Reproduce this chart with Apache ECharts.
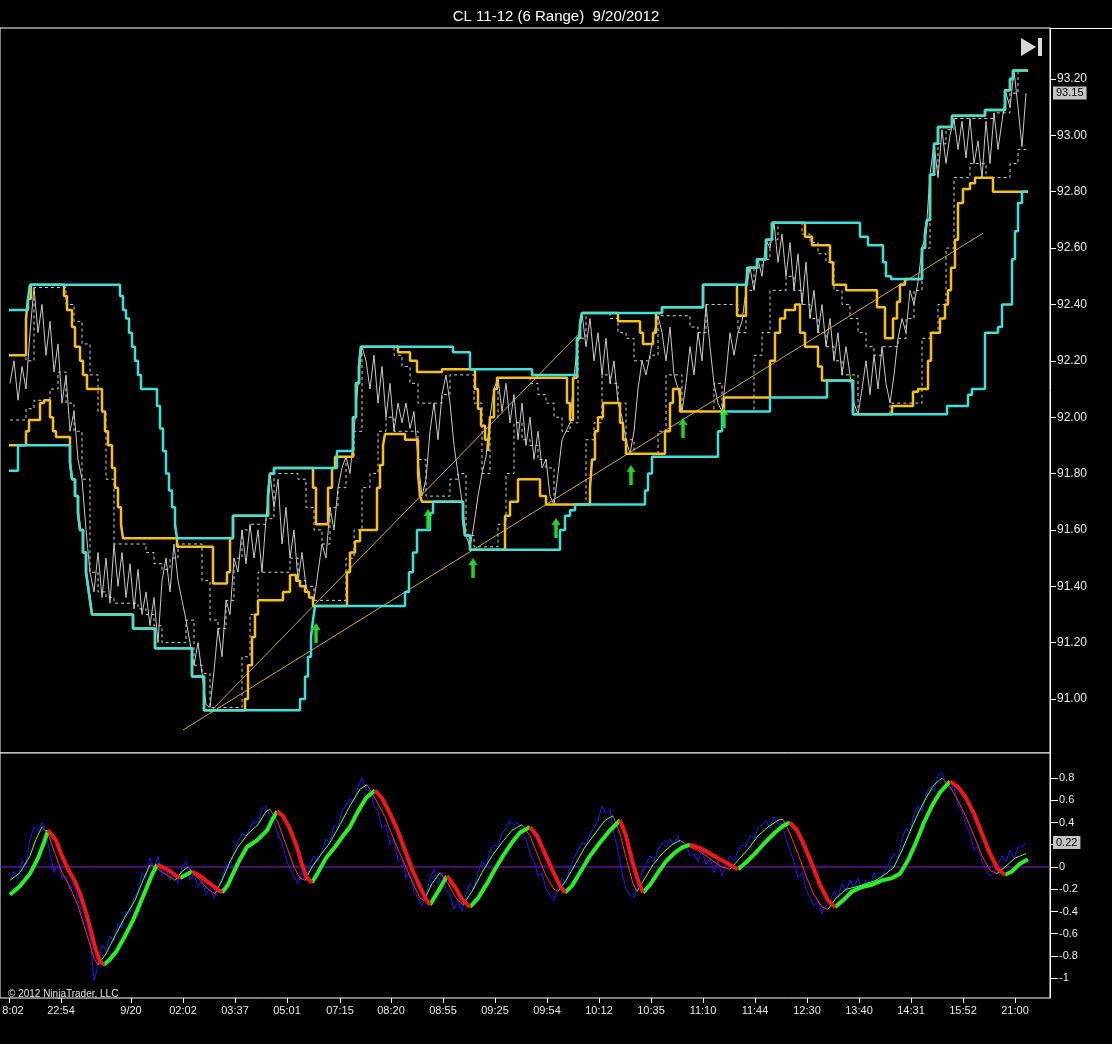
<!DOCTYPE html>
<html><head><meta charset="utf-8">
<script src="https://cdn.jsdelivr.net/npm/echarts@6/dist/echarts.min.js"></script>
<style>html,body{margin:0;padding:0;background:#000;}#c{width:1112px;height:1044px;}</style>
</head><body><div id="c"></div>
<script>
const chartTitle = 'CL 11-12 (6 Range)  9/20/2012';
const copyright = '\u00A9 2012 NinjaTrader, LLC';
const timeLabels = ['8:02','22:54','9/20','02:02','03:37','05:01','07:15','08:20','08:55','09:25','09:54','10:12','10:35','11:10','11:44','12:30','13:40','14:31','15:52','21:00'];
const timeLabelBars = [4.5,30.5,65.5,91.5,117.5,143.5,170,195.5,221.5,247.5,273.5,299.5,325.5,351.5,377.5,403.5,429.5,455.5,481.5,507.5];
const priceTicks = [91.0,91.2,91.4,91.6,91.8,92.0,92.2,92.4,92.6,92.8,93.0,93.2];
const oscTicks = [-1,-0.8,-0.6,-0.4,-0.2,0,0.2,0.4,0.6,0.8];
const lastPrice = 93.15;
const lastOsc = 0.22;

// price (close line), one value every 2 bars starting at bar 5
const priceStartBar = 5, priceStepBars = 2;
const price = [
92.12,92.20,92.06,92.18,92.10,92.30,92.46,92.30,92.40,92.22,
92.34,92.16,92.26,92.05,92.15,91.95,92.02,91.85,91.78,91.60,
91.45,91.38,91.52,91.36,91.50,91.34,91.55,91.40,91.52,91.36,
91.48,91.32,91.46,91.30,91.38,91.26,91.36,91.20,91.42,91.50,
91.38,91.55,91.42,91.35,91.28,91.20,91.12,91.20,91.09,90.98,
90.97,91.10,91.25,91.15,91.35,91.30,91.50,91.45,91.60,91.48,
91.62,91.50,91.60,91.45,91.64,91.80,91.68,91.78,91.55,91.68,
91.50,91.60,91.42,91.52,91.40,91.36,91.35,91.45,91.55,91.50,
91.68,91.60,91.75,91.82,91.86,91.80,91.95,92.12,92.25,92.20,
92.10,92.22,92.05,92.18,92.00,92.12,91.95,92.05,91.98,92.05,
91.96,92.02,91.85,91.72,91.78,91.95,92.05,91.92,92.08,92.15,
92.05,91.90,91.80,91.70,91.58,91.54,91.62,91.72,91.80,91.86,
92.00,92.10,92.14,92.02,92.12,91.98,92.08,91.92,92.05,91.90,
92.00,91.85,91.95,91.82,91.85,91.72,91.69,91.80,91.92,91.95,
91.98,92.14,92.28,92.37,92.25,92.35,92.20,92.30,92.15,92.28,
92.12,92.20,92.05,92.00,91.92,91.87,91.95,92.10,92.20,92.15,
92.22,92.30,92.36,92.30,92.20,92.32,92.15,92.10,92.02,92.12,
92.25,92.15,92.30,92.20,92.40,92.25,92.12,92.05,92.02,92.15,
92.30,92.22,92.30,92.34,92.45,92.53,92.45,92.56,92.50,92.63,
92.60,92.69,92.55,92.65,92.50,92.62,92.45,92.58,92.40,92.55,
92.35,92.45,92.30,92.40,92.25,92.35,92.20,92.30,92.15,92.25,
92.15,92.05,92.01,92.10,92.20,92.08,92.22,92.10,92.25,92.12,
92.05,92.15,92.28,92.35,92.30,92.45,92.40,92.48,92.60,92.65,
92.86,92.97,92.85,93.02,92.90,93.00,93.06,92.95,93.05,92.92,
93.06,92.90,92.98,92.85,93.05,92.90,93.08,92.95,93.05,93.15,
93.10,93.23,93.10,92.96,93.15
];

// fast channel (dashed), one value every 4 bars starting at bar 5
const fastStartBar = 5, fastStepBars = 4;
const fastUpper = [
92.22,92.22,92.20,92.46,92.46,92.46,92.46,92.40,92.34,92.26,
92.15,92.02,91.78,91.55,91.55,91.55,91.55,91.52,91.48,91.46,
91.50,91.55,91.55,91.55,91.42,91.28,91.25,91.35,91.50,91.60,
91.62,91.62,91.64,91.80,91.80,91.80,91.78,91.68,91.60,91.55,
91.68,91.75,91.86,91.95,92.25,92.25,92.25,92.25,92.22,
92.18,92.12,92.05,92.05,92.05,92.08,92.15,92.15,92.15,92.05,
91.80,92.00,92.14,92.14,92.14,92.14,92.12,92.08,92.05,92.00,
91.95,91.98,92.28,92.37,92.37,92.37,92.35,92.30,92.28,92.20,
92.20,92.22,92.36,92.36,92.36,92.36,92.32,92.30,92.40,92.40,
92.40,92.40,92.30,92.45,92.53,92.56,92.63,92.69,92.69,92.69,
92.65,92.62,92.58,92.55,92.45,92.40,92.35,92.30,92.25,92.22,
92.25,92.25,92.28,92.35,92.45,92.60,92.86,92.97,93.02,93.06,
93.06,93.06,93.06,93.06,93.08,93.08,93.15,93.23,93.23
];
const fastLower = [
91.99,91.99,92.03,92.06,92.06,92.10,92.16,92.05,91.95,91.78,
91.45,91.38,91.36,91.34,91.34,91.34,91.32,91.30,91.26,91.20,
91.20,91.20,91.28,91.12,91.09,90.97,90.97,90.97,90.97,91.15,
91.30,91.45,91.45,91.45,91.45,91.50,91.42,91.40,91.35,91.35,
91.35,91.35,91.50,91.60,91.75,91.80,91.95,92.00,91.95,
91.95,91.95,91.85,91.72,91.72,91.72,91.78,91.80,91.58,91.54,
91.54,91.54,91.62,91.80,91.98,91.92,91.90,91.85,91.82,91.69,
91.69,91.69,91.69,91.92,91.98,92.15,92.12,92.05,91.92,91.87,
91.87,91.87,91.95,92.15,92.15,92.02,92.02,92.02,92.02,92.12,
92.02,92.02,92.02,92.02,92.22,92.30,92.45,92.45,92.50,92.45,
92.40,92.35,92.30,92.25,92.20,92.15,92.15,92.01,92.01,92.01,
92.01,92.05,92.05,92.05,92.05,92.28,92.30,92.40,92.60,92.85,
92.85,92.90,92.90,92.85,92.85,92.85,92.90,92.95,92.96
];

// slow channel (cyan): [bar, level] at each change
const outerUpper = [[4.5,92.38],[14,92.42],[15,92.47],[60,92.43],[61.5,92.38],[63,92.35],[64.5,92.30],[66,92.25],[67.5,92.20],[69,92.15],[70.5,92.10],
[78.5,92.04],[80,91.96],[81.5,91.88],[83,91.80],[84.5,91.74],[86,91.68],[87.5,91.62],[88.5,91.57],[116.5,91.65],[134,91.72],[135,91.80],[137,91.82],
[168.5,91.88],[176.5,92.00],[178,92.12],[179.5,92.18],[180.5,92.25],[226.5,92.23],[235,92.17],[266,92.15],[288.5,92.28],[290,92.33],[291,92.37],
[331,92.39],[351.5,92.47],[373.5,92.53],[378.5,92.56],[383,92.63],[386,92.69],[430,92.64],[434,92.61],[441.5,92.55],[443,92.50],[445.5,92.49],
[461,92.60],[462.5,92.65],[463.5,92.70],[465,92.86],[467,92.97],[469,93.03],[476,93.07],[492.5,93.09],[502.5,93.16],[505,93.20],[506.5,93.23],[514,93.23]];
const outerLower = [[4.5,91.81],[9,91.90],[35,91.84],[36,91.78],[37.5,91.72],[39,91.66],[40,91.60],[41.5,91.52],[43,91.45],[44,91.40],[45,91.35],[46,91.30],
[66.5,91.25],[77.5,91.18],[96,91.08],[102,90.96],[150,91.00],[152.5,91.08],[154,91.15],[155.5,91.22],[156.5,91.28],[157.5,91.33],
[202.5,91.38],[204.5,91.45],[206.5,91.52],[208.5,91.60],[215,91.66],[216.5,91.70],[231.5,91.64],[232.5,91.58],[235,91.53],
[280,91.60],[282.5,91.65],[285,91.67],[287.5,91.69],[322.5,91.74],[324,91.80],[326,91.86],[359,91.95],[361,92.02],[385,92.07],[413.5,92.13],
[426.5,92.01],[473.5,92.04],[484,92.08],[486,92.10],[492.5,92.30],[499,92.32],[501,92.40],[506,92.56],[507.5,92.66],[509,92.76],[511,92.80],[514,92.80]];
// fast channel (yellow)
const innerUpper = [[4.5,92.22],[13,92.35],[14,92.42],[15.5,92.47],[32,92.43],[33.5,92.38],[36,92.32],[37.5,92.25],[40,92.20],[41.5,92.15],[43.5,92.10],
[51,92.02],[52.5,91.95],[54,91.90],[56,91.82],[57.5,91.75],[59,91.68],[60.5,91.62],[61.5,91.57],[88.5,91.54],[106.5,91.41],[113.5,91.45],[115,91.57],[116.5,91.65],
[134,91.72],[135,91.80],[137,91.82],[156.5,91.75],[158,91.62],[164,91.75],[166,91.82],[167.5,91.86],[176.5,92.00],[178,92.12],[179.5,92.18],[180.5,92.25],
[199,92.23],[205,92.20],[208.5,92.16],[221,92.17],[237.5,92.10],[239,92.03],[240.5,91.97],[242.5,91.92],[244,91.88],[245,92.00],[247,92.10],[248.5,92.14],
[283.5,92.05],[285,91.99],[286.5,92.14],[288.5,92.28],[290,92.33],[291,92.37],[309,92.34],[320,92.30],[321.5,92.26],[326.5,92.30],[328,92.37],[331,92.39],
[351.5,92.47],[368.5,92.36],[373,92.47],[374,92.53],[378.5,92.56],[383,92.63],[386,92.69],[402.5,92.64],[406,92.61],[415,92.55],[416.5,92.47],[423,92.45],
[438.5,92.39],[442.5,92.28],[446.5,92.35],[448.5,92.41],[450,92.47],[452.5,92.49],[461,92.60],[462.5,92.65],[463.5,92.70],[465,92.86],[467,92.97],[469,93.03],
[476,93.07],[492.5,93.09],[502.5,93.16],[505,93.20],[506.5,93.23],[514,93.23]];
const innerLower = [[4.5,91.90],[13,91.95],[14.5,91.99],[20,92.05],[22,92.06],[25,92.00],[26.5,91.95],[28,91.93],[35,91.84],[36,91.78],[37.5,91.72],[39,91.66],
[40,91.60],[41.5,91.52],[43,91.45],[44,91.40],[45,91.35],[46,91.30],[66.5,91.25],[77.5,91.18],[96,91.08],[102,90.96],[122.5,91.00],[124,91.12],[126,91.22],
[127.5,91.30],[129,91.35],[141.5,91.38],[145,91.44],[148,91.42],[150,91.40],[152.5,91.38],[154.5,91.36],[156.5,91.33],[173.5,91.45],[175,91.52],[177.5,91.56],
[180,91.60],[188.5,91.75],[190,91.83],[191.5,91.90],[192.5,91.94],[202.5,91.92],[209,91.80],[210,91.72],[211,91.70],[231.5,91.64],[232.5,91.58],[235,91.53],
[252.5,91.65],[255,91.70],[259,91.78],[270,91.72],[273,91.69],[295,91.75],[296,91.85],[297.5,91.95],[299,92.00],[301.5,92.05],[310,91.98],[311.5,91.92],
[313,91.87],[332.5,91.95],[335,92.05],[336.5,92.10],[340,92.02],[362,92.07],[385,92.20],[387.5,92.30],[390,92.35],[392.5,92.38],[397.5,92.40],[400,92.30],
[402.5,92.25],[409,92.18],[411,92.13],[426.5,92.01],[446,92.04],[456.5,92.09],[459,92.10],[464,92.20],[465.5,92.30],[470,92.35],[472.5,92.40],[474,92.45],
[475.5,92.53],[477.5,92.63],[479,92.76],[481.5,92.81],[485,92.83],[487.5,92.85],[496.5,92.80],[514,92.80]];

const trendLineA = [[91.5,90.89],[491.5,92.653]];
const trendLineB = [[105,90.954],[290,92.30]];
const buySignals = [[158,91.234],[214,91.639],[236.5,91.465],[278,91.607],[315.5,91.795],[341.5,91.962],[362,91.997]];

// oscillator
const oscStartBar = 5, oscStepBars = 2;
const oscRaw = [
-0.12,-0.04,-0.10,0.05,0.02,0.25,0.36,0.32,0.40,0.30,
0.12,-0.05,0.02,-0.10,-0.08,-0.20,-0.15,-0.30,-0.42,-0.50,
-0.62,-1.02,-0.88,-0.70,-0.75,-0.62,-0.66,-0.50,-0.55,-0.40,
-0.42,-0.28,-0.22,-0.05,-0.10,0.08,-0.02,0.10,-0.08,-0.02,
-0.12,-0.05,-0.15,0.00,0.05,-0.12,-0.06,-0.18,-0.12,-0.25,
-0.18,-0.28,-0.20,-0.10,0.02,-0.02,0.15,0.22,0.30,0.28,
0.35,0.42,0.38,0.52,0.55,0.45,0.40,0.30,0.22,0.08,
-0.02,-0.08,-0.15,-0.05,-0.12,0.02,0.10,0.05,0.15,0.25,
0.22,0.38,0.35,0.50,0.55,0.62,0.58,0.72,0.80,0.70,
0.68,0.55,0.50,0.35,0.38,0.20,0.25,0.05,0.08,-0.10,
-0.05,-0.22,-0.28,-0.35,-0.25,-0.10,-0.02,-0.15,-0.05,-0.20,
-0.25,-0.38,-0.30,-0.40,-0.25,-0.15,-0.20,-0.05,0.05,0.00,
0.15,0.20,0.18,0.30,0.35,0.42,0.38,0.40,0.30,0.25,
0.12,0.05,-0.08,-0.05,-0.20,-0.25,-0.30,-0.18,-0.10,-0.15,
0.00,0.08,0.15,0.22,0.20,0.30,0.35,0.42,0.55,0.48,
0.52,0.30,0.15,-0.05,-0.20,-0.25,-0.28,-0.15,-0.05,0.02,
0.10,0.05,0.15,0.22,0.18,0.25,0.20,0.28,0.15,0.20,
0.10,0.12,0.05,0.15,0.02,0.08,-0.05,0.05,-0.08,0.02,
0.10,0.05,0.15,0.20,0.18,0.28,0.25,0.35,0.38,0.42,
0.35,0.45,0.38,0.40,0.25,0.15,0.05,-0.10,-0.05,-0.20,
-0.28,-0.35,-0.30,-0.42,-0.35,-0.30,-0.22,-0.28,-0.15,-0.22,
-0.12,-0.18,-0.10,-0.20,-0.12,-0.18,-0.05,-0.15,-0.08,-0.02,
0.05,0.12,0.08,0.25,0.35,0.30,0.48,0.55,0.50,0.65,
0.72,0.68,0.82,0.85,0.75,0.70,0.72,0.55,0.50,0.38,
0.30,0.15,0.20,0.05,-0.02,-0.08,-0.05,0.02,0.10,0.05,
0.15,0.08,0.18,0.18,0.22
];
const oscFast = [[5,-0.12],[10,-0.05],[15,0.10],[18,0.25],[21,0.36],[24,0.30],[27.5,0.12],[31,-0.05],[35,-0.18],[39,-0.35],[43,-0.58],[47,-0.82],[49,-0.88],
[53,-0.78],[57.5,-0.62],[62.5,-0.45],[67.5,-0.30],[71.5,-0.12],[75,0.02],[79,-0.02],[84,-0.08],[87.5,-0.12],[91,-0.04],[94,0.00],[99,-0.10],[104,-0.20],[107.5,-0.24],
[111,-0.12],[115,0.05],[119,0.18],[124,0.30],[129,0.38],[133,0.50],[135,0.52],[139,0.40],[143,0.20],[147,0.00],[150,-0.10],[152.5,-0.12],
[156,0.00],[160,0.10],[165,0.22],[170,0.38],[175,0.55],[180,0.70],[183.5,0.74],[187.5,0.62],[192.5,0.45],[197.5,0.22],[202.5,0.02],[206.5,-0.15],[210,-0.28],[212,-0.30],
[216,-0.15],[220,-0.05],[224,-0.15],[228,-0.28],[231.5,-0.34],[236,-0.22],[241,-0.05],[246,0.10],[251,0.22],[256,0.33],[261,0.38],
[265,0.28],[269,0.10],[273,-0.08],[277,-0.20],[279,-0.22],[283,-0.12],[287.5,0.02],[292.5,0.18],[297.5,0.30],[302.5,0.42],[306.5,0.46],
[310,0.30],[313.5,0.05],[316.5,-0.15],[318.5,-0.22],[322.5,-0.10],[326.5,0.02],[331,0.12],[336,0.20],[340,0.24],
[345,0.18],[350,0.14],[356,0.06],[361,0.00],[365,-0.02],[369,0.06],[374,0.16],[379,0.28],[384,0.36],[389,0.42],[391.5,0.43],
[395,0.30],[399,0.12],[403,-0.08],[407,-0.25],[411,-0.36],[414,-0.38],[418,-0.28],[423,-0.20],[428,-0.18],[433,-0.15],[438,-0.12],[443,-0.06],[447,0.00],
[451,0.15],[455,0.32],[459,0.48],[463,0.62],[467,0.74],[471,0.80],[475,0.72],[479,0.60],[483,0.45],[487,0.28],[491,0.10],[495,-0.03],[498.5,-0.06],
[502.5,0.00],[507.5,0.08],[513,0.12]];
const oscSlow = [[5,-0.25],[10,-0.17],[15,-0.06],[19,0.08],[22,0.22],[24,0.33],[28,0.24],[31,0.10],[34,-0.02],[37.5,-0.13],[40,-0.24],[42.5,-0.38],[45,-0.54],
[47.5,-0.72],[50,-0.85],[52,-0.88],[55,-0.83],[58.5,-0.75],[62.5,-0.62],[66.5,-0.48],[70,-0.33],[73.5,-0.18],[76,-0.07],[78.5,0.02],[82.5,-0.01],[86,-0.05],
[90,-0.10],[93,-0.07],[96,-0.04],[100,-0.08],[105,-0.15],[111,-0.23],[114,-0.16],[116.5,-0.06],[120,0.07],[123.5,0.18],[128.5,0.24],[133.5,0.33],[136,0.42],
[138.5,0.50],[141.5,0.46],[145,0.34],[148.5,0.18],[151,0.02],[153.5,-0.10],[156,-0.14],[159,-0.05],[163,0.08],[167.5,0.18],[171.5,0.28],[175,0.36],[179,0.50],
[183,0.62],[187.5,0.69],[191,0.62],[195,0.48],[199,0.32],[202.5,0.15],[206,-0.02],[210,-0.18],[213,-0.29],[215,-0.34],[219,-0.22],[223.5,-0.08],[227.5,-0.18],
[231,-0.29],[235,-0.36],[239,-0.28],[243.5,-0.15],[247.5,-0.02],[251.5,0.10],[256,0.22],[260,0.31],[265,0.36],[268.5,0.28],[272.5,0.12],[276.5,-0.04],[280,-0.17],
[282.5,-0.23],[286,-0.17],[290,-0.05],[295,0.10],[300,0.22],[305,0.33],[310,0.42],[313,0.28],[316,0.06],[319,-0.12],[321.5,-0.23],[325,-0.16],[329,-0.05],
[333,0.05],[337.5,0.13],[341.5,0.18],[345,0.20],[350,0.17],[355,0.12],[360,0.07],[365,0.02],[369,-0.02],[373,0.04],[377.5,0.12],[382.5,0.22],[387.5,0.31],
[391.5,0.37],[395,0.40],[398.5,0.33],[402.5,0.18],[406.5,0.00],[410,-0.16],[414,-0.30],[417.5,-0.36],[421.5,-0.30],[426,-0.22],[431,-0.18],[436,-0.16],
[441,-0.12],[446,-0.10],[450,-0.06],[454,0.06],[458,0.22],[462,0.40],[466,0.55],[470,0.67],[475,0.77],[479,0.72],[483,0.62],[487,0.48],[491,0.30],[495,0.12],
[499,-0.02],[502.5,-0.07],[506,-0.04],[510,0.03],[514,0.07]];

// ---------- build ----------
const toPairs = (start, step, arr) => arr.map((v, i) => [start + i * step, v]);
function splitBySlope(pts) {
  const up = [], down = [];
  for (let i = 0; i < pts.length - 1; i++) {
    const a = pts[i], b = pts[i + 1];
    const tgt = b[1] >= a[1] ? up : down;
    const last = tgt[tgt.length - 1];
    if (!last || last[0] !== a[0] || last[1] !== a[1]) {
      if (tgt.length) tgt.push([a[0], '-']);
      tgt.push(a);
    }
    tgt.push(b);
  }
  return { up, down };
}
const slow = splitBySlope(oscSlow);
const fast = splitBySlope(oscFast);
const XMAX = 525;
const labelFor = v => {
  const i = timeLabelBars.findIndex(b => Math.abs(b - v) < 1e-6);
  if (i < 0) return '';
  return i === 0 ? '{first|' + timeLabels[i] + '}' : timeLabels[i];
};
const font = 'Liberation Sans, Arial, sans-serif';

const stepLine = (data, color, width, z) => ({ type: 'line', xAxisIndex: 0, yAxisIndex: 0, data, step: 'end', showSymbol: false, symbol: 'none', lineStyle: { color, width }, z, silent: true });
const plainLine = (data, color, width, z, x, y, extra) => Object.assign({ type: 'line', xAxisIndex: x, yAxisIndex: y, data, showSymbol: false, symbol: 'none', lineStyle: { color, width }, z, silent: true }, extra || {});
const tagLabel = { show: true, formatter: p => Number(p.value).toFixed(2), backgroundColor: '#c4c4c4', color: '#000', padding: [1, 3, 1, 3], fontSize: 11, margin: 3, borderRadius: 0 };

const option = {
  animation: false,
  backgroundColor: '#000',
  textStyle: { fontFamily: font },
  title: [
    { text: chartTitle, left: 'center', top: 4, textStyle: { color: '#ffffff', fontSize: 15, fontWeight: 'normal', fontFamily: font } },
    { text: copyright, left: 3, top: 984, textStyle: { color: '#e0e0e0', fontSize: 10, fontWeight: 'normal', fontFamily: font } }
  ],
  grid: [
    { left: 0, top: 28, width: 1050, height: 725, outerBoundsMode: 'none', containLabel: false, show: true, borderColor: '#ffffff', borderWidth: 1, backgroundColor: '#000' },
    { left: 0, top: 753, width: 1050, height: 245, outerBoundsMode: 'none', containLabel: false, show: true, borderColor: '#ffffff', borderWidth: 1, backgroundColor: '#000' }
  ],
  xAxis: [
    { gridIndex: 0, type: 'value', min: 0, max: XMAX, show: false, axisLine: { onZero: false }, axisPointer: { show: false } },
    { gridIndex: 1, type: 'value', min: 0, max: XMAX, position: 'bottom', axisLine: { show: false, onZero: false }, splitLine: { show: false },
      axisPointer: { show: false },
      axisTick: { show: true, customValues: timeLabelBars, length: 5, lineStyle: { color: '#ffffff' } },
      axisLabel: { customValues: timeLabelBars, formatter: labelFor, color: '#e8e8e8', fontSize: 11, margin: 7, fontFamily: font,
        rich: { first: { padding: [0, 0, 0, 8], color: '#e8e8e8', fontSize: 11, fontFamily: font } } } }
  ],
  yAxis: [
    { gridIndex: 0, type: 'value', position: 'right', min: 90.8084, max: 93.381, splitLine: { show: false },
      axisLine: { show: true, onZero: false, lineStyle: { color: '#ffffff' } },
      axisTick: { show: true, customValues: priceTicks, length: 6, lineStyle: { color: '#ffffff' } },
      axisLabel: { customValues: priceTicks, formatter: v => v.toFixed(2), color: '#e8e8e8', fontSize: 12, margin: 7, fontFamily: font },
      axisPointer: { show: true, type: 'none', value: lastPrice, status: 'show', triggerTooltip: false, label: tagLabel } },
    { gridIndex: 1, type: 'value', position: 'right', min: -1.178, max: 1.025, splitLine: { show: false },
      axisLine: { show: true, onZero: false, lineStyle: { color: '#ffffff' } },
      axisTick: { show: true, customValues: oscTicks, length: 8, lineStyle: { color: '#ffffff' } },
      axisLabel: { customValues: oscTicks, formatter: v => String(Math.round(v * 10) / 10), color: '#e8e8e8', fontSize: 11, margin: 9, fontFamily: font },
      axisPointer: { show: true, type: 'none', value: lastOsc, status: 'show', triggerTooltip: false, label: tagLabel } }
  ],
  graphic: [
    { type: 'polygon', right: 76, top: 38, shape: { points: [[0, 0], [15, 9], [0, 18]] }, style: { fill: '#d8d8d8' }, z: 100 },
    { type: 'rect', right: 70, top: 38, shape: { width: 4, height: 18 }, style: { fill: '#d8d8d8' }, z: 100 },
    { type: 'rect', right: 0, top: 28, shape: { width: 62, height: 1 }, style: { fill: '#ffffff' }, z: 100 }
  ],
  series: [
    plainLine(toPairs(priceStartBar, priceStepBars, price), '#c8c8c8', 1, 2, 0, 0),
    Object.assign(stepLine(toPairs(fastStartBar, fastStepBars, fastUpper), '#d0d0d0', 1, 3), { lineStyle: { color: '#d0d0d0', width: 1, type: [3, 3] } }),
    Object.assign(stepLine(toPairs(fastStartBar, fastStepBars, fastLower), '#d0d0d0', 1, 3), { lineStyle: { color: '#d0d0d0', width: 1, type: [3, 3] } }),
    plainLine(trendLineA, '#c9a838', 1, 4, 0, 0),
    plainLine(trendLineB, '#c9a838', 1, 4, 0, 0),
    stepLine(innerUpper, '#f3c01c', 2.5, 5),
    stepLine(innerLower, '#f3c01c', 2.5, 5),
    stepLine(outerUpper, '#40e0d8', 2.5, 6),
    stepLine(outerLower, '#40e0d8', 2.5, 6),
    { type: 'scatter', xAxisIndex: 0, yAxisIndex: 0, data: buySignals, symbol: 'path://M5,0 L10,7 L7,7 L7,20 L3,20 L3,7 L0,7 Z', symbolSize: [9, 20],
      itemStyle: { color: '#3cff3c', borderColor: '#0a7a0a', borderWidth: 0.5 }, z: 8, silent: true },
    plainLine([[0, 0], [XMAX, 0]], '#8c1ee0', 1, 2, 1, 1),
    plainLine(toPairs(oscStartBar, oscStepBars, oscRaw), '#1a1aff', 1, 3, 1, 1),
    plainLine(fast.up, '#55ff55', 1, 4, 1, 1, { connectNulls: false }),
    plainLine(fast.down, '#ff3030', 1, 4, 1, 1, { connectNulls: false }),
    plainLine(slow.up, '#28f028', 4, 5, 1, 1, { connectNulls: false }),
    plainLine(slow.down, '#f01818', 4, 5, 1, 1, { connectNulls: false })
  ]
};
const chart = echarts.init(document.getElementById('c'), null, { renderer: 'canvas', width: 1112, height: 1044 });
chart.setOption(option);
</script>
</body></html>
